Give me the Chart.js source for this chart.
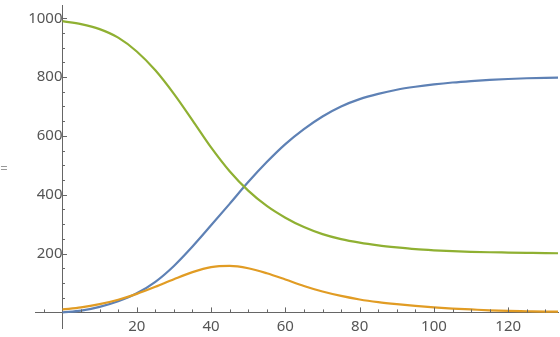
<!DOCTYPE html>
<html>
<head>
<meta charset="utf-8">
<script src="https://cdn.jsdelivr.net/npm/chart.js@4"></script>
<style>
  body { margin: 0; background: #fff; }
  canvas { display: block; }
</style>
</head>
<body>
<canvas id="sirChart" width="560" height="337"></canvas>
<script>
// time points (days)
const times = [0, 5, 10, 15, 20, 25, 30, 35, 40, 45, 50, 55, 60, 65, 70,
  75, 80, 85, 90, 95, 100, 105, 110, 115, 120, 125, 130, 135];

// recovered (blue)
const recovered = [0, 6, 19, 38, 65, 104, 158, 224, 296, 369, 443, 511, 572, 623, 666,
  700, 725, 743, 757, 767, 775, 781.5, 786.5, 790.5, 793.5, 796, 797.5, 798.5];

// infected (orange)
const infected = [10, 17, 28, 43, 63, 87, 113, 137, 154, 158, 150, 133, 112, 90, 71,
  56, 44, 35, 28, 22, 17, 13, 10, 7, 5, 4, 3, 2.5];

// susceptible (green)
const susceptible = [990, 980, 963, 934, 887, 823, 743, 653, 561, 480, 414, 362, 322, 290, 266,
  249, 237, 228, 221, 215, 211, 208, 206, 204.5, 203.5, 202.5, 201.5, 201];

const xTickLabels = [20, 40, 60, 80, 100, 120];
const yTickLabels = [200, 400, 600, 800, 1000];

const axisColor = "#666";
const labelFont = { family: "'Noto Sans', 'Open Sans', sans-serif", size: 15 };

const toPoints = (vals) => vals.map((v, i) => ({ x: times[i], y: v }));

// small inward tick marks like Mathematica axes
const tickMarks = {
  id: "tickMarks",
  afterDraw(chart) {
    const { ctx, scales: { x, y } } = chart;
    const x0 = x.getPixelForValue(0);
    const y0 = y.getPixelForValue(0);
    ctx.save();
    ctx.strokeStyle = axisColor;
    ctx.lineWidth = 1;
    ctx.beginPath();
    for (let t = -5; t <= 130; t += 5) {
      if (t === 0) continue;
      const px = Math.round(x.getPixelForValue(t)) + 0.5;
      const len = xTickLabels.includes(t) ? 5 : 3;
      ctx.moveTo(px, y0);
      ctx.lineTo(px, y0 - len);
    }
    for (let v = 50; v <= 1000; v += 50) {
      const py = Math.round(y.getPixelForValue(v)) + 0.5;
      const len = yTickLabels.includes(v) ? 4.5 : 2.5;
      ctx.moveTo(x0, py);
      ctx.lineTo(x0 + len, py);
    }
    ctx.stroke();
    // little axis label at the left
    ctx.fillStyle = "#999";
    ctx.font = "13px 'Noto Sans', sans-serif";
    ctx.textAlign = "center";
    ctx.textBaseline = "middle";
    ctx.fillText("=", 4, 169);
    ctx.restore();
  }
};

// keep the label half-heights from shrinking the plot area
const noPad = (s) => { s.paddingTop = 0; s.paddingBottom = 0; s.paddingLeft = 0; s.paddingRight = 0; };

new Chart(document.getElementById("sirChart"), {
  type: "line",
  data: {
    datasets: [
      {
        label: "Susceptible",
        data: toPoints(susceptible),
        borderColor: "#8FB032",
        order: 0
      },
      {
        label: "Infected",
        data: toPoints(infected),
        borderColor: "#E19C24",
        order: 1
      },
      {
        label: "Recovered",
        data: toPoints(recovered),
        borderColor: "#5E81B5",
        order: 2
      }
    ]
  },
  options: {
    responsive: false,
    animation: false,
    layout: { padding: { left: 35, right: 2, top: 5, bottom: 9 } },
    elements: {
      point: { radius: 0 },
      line: { borderWidth: 2.2, cubicInterpolationMode: "monotone", fill: false }
    },
    plugins: {
      legend: { display: false },
      tooltip: { enabled: false }
    },
    scales: {
      x: {
        type: "linear",
        min: -7.4,
        max: 133.4,
        position: { y: 0 },
        grid: { display: false, drawTicks: false, tickLength: 0 },
        border: { color: axisColor },
        afterBuildTicks: (s) => { s.ticks = xTickLabels.map(v => ({ value: v })); },
        afterFit: noPad,
        ticks: { color: "#555", font: labelFont, padding: 5, maxRotation: 0, callback: (v) => String(v) }
      },
      y: {
        type: "linear",
        min: -53,
        max: 1045,
        position: { x: 0 },
        grid: { display: false, drawTicks: false, tickLength: 0 },
        border: { color: axisColor },
        afterBuildTicks: (s) => { s.ticks = yTickLabels.map(v => ({ value: v })); },
        afterFit: noPad,
        ticks: { color: "#555", font: labelFont, padding: 7, callback: (v) => String(v) }
      }
    }
  },
  plugins: [tickMarks]
});
</script>
</body>
</html>
